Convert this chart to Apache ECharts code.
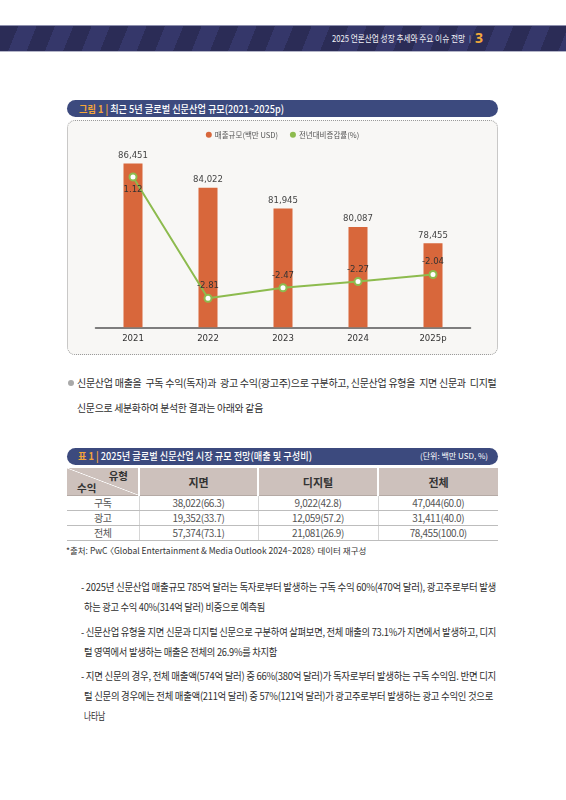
<!DOCTYPE html>
<html><head><meta charset="utf-8">
<script src="https://cdn.jsdelivr.net/npm/echarts@6/dist/echarts.min.js"></script>
<style>
html,body{margin:0;padding:0}
body{width:566px;height:800px;position:relative;background:#fff;font-family:"Noto Sans CJK KR","Noto Sans",sans-serif;overflow:hidden;color:#2a2a2a}
.abs{position:absolute;white-space:nowrap}
.fit{position:absolute;white-space:pre;transform-origin:0 50%}
#hdr{left:0;top:25px;width:566px;height:25px;background:repeating-linear-gradient(112deg,#2b2c56 0 17px,#35376a 17px 34px);border-top:1px solid #8e90ae;border-bottom:1px solid #b4b5c8}
.hdrt{top:31px;height:14px;line-height:14px;font-size:9.5px;color:#f2f2f6}
#sep{left:469px;top:31px;line-height:14px;font-size:7px;color:#c9c9d8}
#pgNum{left:475px;top:30px;line-height:16px;color:#f3a93a;font-weight:700;font-size:14px;font-family:"Liberation Sans Narrow","Noto Sans",sans-serif}
.bar{position:absolute;left:67px;width:431px;height:17px;border-radius:9px;background:#3c4a7e;color:#fff;font-size:10.5px;line-height:17px;white-space:nowrap}
.bar .fit{left:12px;top:0}
.bar .o{color:#f4a53a;font-weight:700}
.bar .w{font-weight:500}
#box{left:67px;top:120px;width:429px;height:233px;border:1px dotted #9a9a9a;border-radius:8px;background:#f8f7f5}
#chart{position:absolute;left:67px;top:120px;width:431px;height:235px}
.ln{font-size:10.5px;line-height:14px;height:14px;color:#2e2e2e;letter-spacing:-0.3px}
#dot{left:68px;top:380px;width:6px;height:6px;border-radius:50%;background:#a9a9a9}
#tbl{position:absolute;left:67px;top:468px;width:431px;border-collapse:collapse;table-layout:fixed}
#tbl th{background:#cdc1bc;height:27px;padding:0;font-size:11px;font-weight:700;color:#333;border-left:2px solid #fff;border-right:2px solid #fff;border-bottom:1px solid #b5aaa5}
#tbl th:first-child{border-left:none}
#tbl th:last-child{border-right:none}
#tbl th.diag{position:relative;background:#cdc1bc linear-gradient(to top right,transparent calc(50% - 0.7px),#fff 50%,transparent calc(50% + 0.7px))}
#tbl th.diag span{position:absolute;font-size:10.5px;font-weight:700}
#tbl td{height:14px;padding:0;text-align:center;font-size:10px;color:#555;border-bottom:1px solid #bdbdbd;border-left:1px solid #d6d6d6;line-height:14px;letter-spacing:-0.4px}
#tbl td:first-child{border-left:none}
#src{left:66px;top:544px;font-size:8.5px;line-height:12px;color:#333}
#src .bl{display:inline-block;margin-left:-4px}
#src .bri{display:inline-block;margin-right:-4px}
</style></head>
<body>
<div id="hdr" class="abs"></div>
<div id="hdrTitle" class="fit hdrt" style="left:332px"></div>
<div id="sep" class="abs">|</div>
<div id="pgNum" class="abs"></div>

<div class="bar" style="top:100px"><div class="fit" id="figT"><span class="o" id="figNo"></span><span class="w" id="figTitle"></span></div></div>
<div id="box" class="abs"></div>
<div id="chart"></div>

<div id="dot" class="abs"></div>
<div id="paras"></div>

<div class="bar" style="top:448px;height:16.5px;line-height:16.5px"><div class="fit" id="tblT" style="left:11px"><span class="o" id="tblNo"></span><span class="w" id="tblTitle"></span></div><span id="unit" style="position:absolute;right:10px;top:0;font-size:8px;color:#fff"></span></div>
<table id="tbl"><colgroup><col style="width:72px"><col style="width:119px"><col style="width:120px"><col style="width:120px"></colgroup></table>
<div id="src" class="abs"></div>

<script>
// ---------- text data ----------
const headerTitle = '2025 언론산업 성장 추세와 주요 이슈 전망';
const pageNumber = '3';
const figureNo = '그림 1 | ';
const figureTitle = '최근 5년 글로벌 신문산업 규모(2021~2025p)';
const legendNames = ['매출규모(백만 USD)', '전년대비증감률(%)'];

// ---------- chart data ----------
const categories = ['2021', '2022', '2023', '2024', '2025p'];
const revenue = [86451, 84022, 81945, 80087, 78455];
const growthRate = [1.12, -2.81, -2.47, -2.27, -2.04];

// ---------- table data ----------
const tableNo = '표 1 | ';
const tableTitle = '2025년 글로벌 신문산업 시장 규모 전망(매출 및 구성비)';
const tableUnit = '(단위: 백만 USD, %)';
const colHeaders = ['지면', '디지털', '전체'];
const rowHeaders = ['구독', '광고', '전체'];
const printValues = [38022, 19352, 57374];
const printShares = [66.3, 33.7, 73.1];
const digitalValues = [9022, 12059, 21081];
const digitalShares = [42.8, 57.2, 26.9];
const totalValues = [47044, 31411, 78455];
const totalShares = [60.0, 40.0, 100.0];
const sourceParts = ['*출처: PwC ', '〈', 'Global Entertainment &amp; Media Outlook 2024~2028', '〉', ' 데이터 재구성'];

// ---------- body text ----------
const introLines = [
  '신문산업 매출을  구독 수익(독자)과  광고 수익(광고주)으로 구분하고, 신문산업 유형을  지면 신문과  디지털',
  '신문으로 세분화하여 분석한 결과는 아래와 같음'
];
const bulletLines = [
  '- 2025년 신문산업 매출규모 785억 달러는 독자로부터 발생하는 구독 수익 60%(470억 달러), 광고주로부터 발생',
  '하는 광고 수익 40%(314억 달러) 비중으로 예측됨',
  '- 신문산업 유형을 지면 신문과 디지털 신문으로 구분하여 살펴보면, 전체 매출의 73.1%가 지면에서 발생하고, 디지',
  '털 영역에서 발생하는 매출은 전체의 26.9%를 차지함',
  '- 지면 신문의 경우, 전체 매출액(574억 달러) 중 66%(380억 달러)가 독자로부터 발생하는 구독 수익임. 반면 디지',
  '털 신문의 경우에는 전체 매출액(211억 달러) 중 57%(121억 달러)가 광고주로부터 발생하는 광고 수익인 것으로',
  '나타남'
];
// layout for text lines: [left, centerY, rightEnd]
const introLayout = [[77, 383, 496.5], [77, 408, 263]];
const bulletLayout = [[80.5, 587, 495.5], [84, 607, 265], [80.5, 631.5, 495.5], [84, 651.5, 277], [80.5, 676, 495.5], [84, 696, 493], [84, 716, 105]];

function fit(el, width) {
  const w = el.getBoundingClientRect().width;
  el.style.transform = 'scaleX(' + (width / w) + ')';
}

document.getElementById('hdrTitle').textContent = headerTitle;
document.getElementById('pgNum').textContent = pageNumber;
document.getElementById('figNo').textContent = figureNo;
document.getElementById('figTitle').textContent = figureTitle;
document.getElementById('tblNo').textContent = tableNo;
document.getElementById('tblTitle').textContent = tableTitle;
document.getElementById('unit').textContent = tableUnit;
document.getElementById('src').innerHTML = sourceParts.map((p, i) =>
  i === 1 ? '<span class="bl">' + p + '</span>' : i === 3 ? '<span class="bri">' + p + '</span>' : p).join('');
fit(document.getElementById('hdrTitle'), 133);
fit(document.getElementById('figT'), 205);
fit(document.getElementById('tblT'), 234);

const paras = document.getElementById('paras');
function addLines(lines, layout) {
  lines.forEach((t, i) => {
    const d = document.createElement('div');
    d.className = 'fit ln';
    d.textContent = t;
    d.style.left = layout[i][0] + 'px';
    d.style.top = (layout[i][1] - 7) + 'px';
    paras.appendChild(d);
    fit(d, layout[i][2] - layout[i][0]);
  });
}
addLines(introLines, introLayout);
addLines(bulletLines, bulletLayout);

// table
const tbl = document.getElementById('tbl');
const fmt = (v, s) => v.toLocaleString('en-US') + '(' + s.toFixed(1) + ')';
let html = '<tr><th class="diag"><span style="right:10px;top:0px">유형</span><span style="left:10px;top:12px">수익</span></th>' +
  colHeaders.map(c => '<th>' + c + '</th>').join('') + '</tr>';
rowHeaders.forEach((r, i) => {
  html += '<tr><td>' + r + '</td><td>' + fmt(printValues[i], printShares[i]) + '</td><td>' +
    fmt(digitalValues[i], digitalShares[i]) + '</td><td>' + fmt(totalValues[i], totalShares[i]) + '</td></tr>';
});
tbl.insertAdjacentHTML('beforeend', html);

// ---------- chart ----------
const numFont = "'Liberation Sans Narrow','DejaVu Sans Condensed',Roboto,sans-serif";
const chart = echarts.init(document.getElementById('chart'));
chart.setOption({
  animation: false,
  legend: {
    top: 6, left: 'center', icon: 'circle', itemWidth: 6, itemHeight: 6, itemGap: 12,
    textStyle: { fontSize: 7.5, color: '#555', fontFamily: '"Noto Sans CJK KR",sans-serif', padding: [0, 0, 0, -2] },
    data: [
      { name: legendNames[0], itemStyle: { color: '#d8673b' } },
      { name: legendNames[1], itemStyle: { color: '#8dbb4e', borderWidth: 0 } }
    ]
  },
  grid: { left: 28.5, right: 27.5, top: 28.2, bottom: 27.7, outerBoundsMode: 'none' },
  xAxis: {
    type: 'category', data: categories,
    axisLine: { onZero: false, lineStyle: { color: '#555', width: 1.5 } },
    axisTick: { show: false },
    axisLabel: { color: '#333', fontSize: 9.5, margin: 6, fontFamily: numFont }
  },
  yAxis: [
    { type: 'value', min: 70000, max: 88000, show: false, splitLine: { show: false } },
    { type: 'value', min: -3.75, max: 2.05, show: false, splitLine: { show: false } }
  ],
  series: [
    {
      name: legendNames[0], type: 'bar', data: revenue, barWidth: 19,
      itemStyle: { color: '#d8673b' },
      label: { show: true, position: 'top', distance: 3, color: '#444', fontSize: 9.5, fontFamily: numFont,
        formatter: p => p.value.toLocaleString('en-US') }
    },
    {
      name: legendNames[1], type: 'line', yAxisIndex: 1,
      data: growthRate.map((v, i) => ({ value: v, label: { position: i === 0 ? 'bottom' : 'top' } })),
      symbol: 'circle', symbolSize: 7, z: 5,
      lineStyle: { color: '#8dbb4e', width: 2 },
      itemStyle: { color: '#fff', borderColor: '#8dbb4e', borderWidth: 2 },
      label: { show: true, color: '#333', fontSize: 9.5, distance: 3, fontFamily: numFont,
        formatter: p => p.value.toFixed(2) }
    }
  ]
});
</script>
</body></html>
